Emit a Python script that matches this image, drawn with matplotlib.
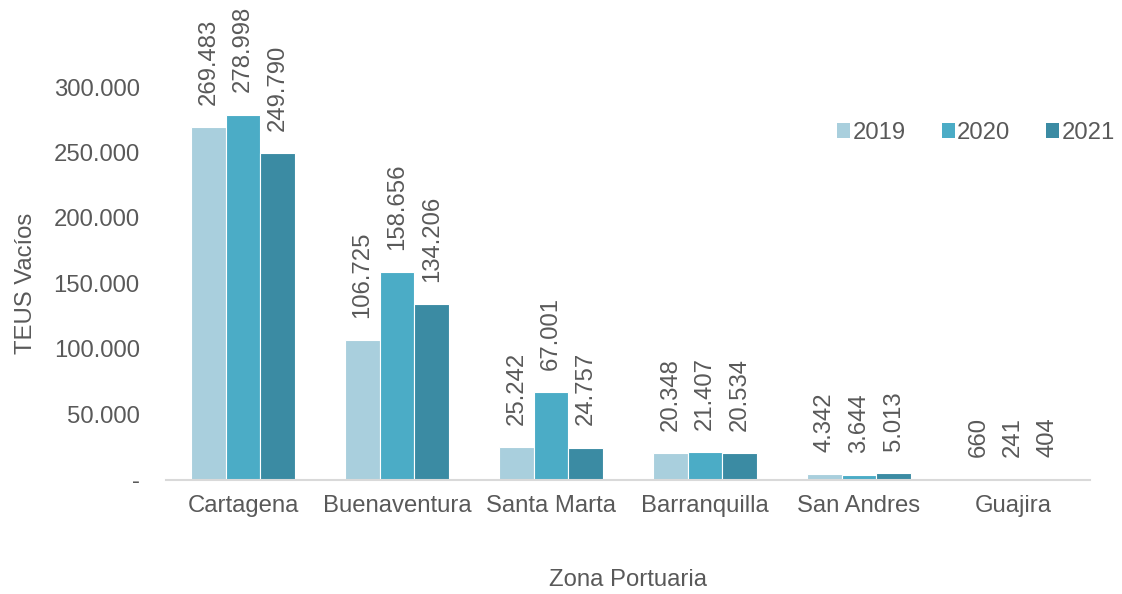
import matplotlib
matplotlib.use("Agg")
import matplotlib.pyplot as plt
import numpy as np
from matplotlib.patches import Patch

plt.rcParams['font.family'] = ['Liberation Sans', 'DejaVu Sans']

categories = ["Cartagena", "Buenaventura", "Santa Marta", "Barranquilla", "San Andres", "Guajira"]
years = ["2019", "2020", "2021"]
v2019 = [269483, 106725, 25242, 20348, 4342, 660]
v2020 = [278998, 158656, 67001, 21407, 3644, 241]
v2021 = [249790, 134206, 24757, 20534, 5013, 404]
series = [v2019, v2020, v2021]
colors = ["#A9CFDD", "#4BACC6", "#3B8BA3"]
yticks = [0, 50000, 100000, 150000, 200000, 250000, 300000]
ytick_labels = ["-", "50.000", "100.000", "150.000", "200.000", "250.000", "300.000"]

txt = "#595959"
fs = 17.2

fig = plt.figure(figsize=(11.22, 5.94), dpi=100)
ax = fig.add_axes([0.148, 0.192, 0.8235, 0.6615])

x = np.arange(len(categories))
w = 0.225
for i, (vals, c) in enumerate(zip(series, colors)):
    pos = x + (i - 1) * w
    ax.bar(pos, vals, width=w, color=c, edgecolor="white", linewidth=0.8, zorder=2)
    for p, v in zip(pos, vals):
        lab = f"{v:,}".replace(",", ".")
        ax.annotate(lab, (p, v), xytext=(0, 16), textcoords="offset points",
                    rotation=90, ha="center", va="bottom",
                    fontsize=fs, color=txt, annotation_clip=False)

ax.set_xlim(-0.5, len(categories) - 0.5)
ax.set_ylim(0, 300000)
ax.set_xticks(x)
ax.set_xticklabels(categories, fontsize=fs, color=txt)
ax.set_yticks(yticks)
ax.set_yticklabels(ytick_labels, fontsize=fs, color=txt)
ax.tick_params(axis="both", length=0)
ax.tick_params(axis="x", pad=11)
ax.tick_params(axis="y", pad=19)
for s in ["top", "right", "left"]:
    ax.spines[s].set_visible(False)
ax.spines["bottom"].set_color("#D9D9D9")
ax.spines["bottom"].set_linewidth(1.5)

ax.set_ylabel("TEUS Vacíos", fontsize=fs, color=txt, labelpad=12)
ax.set_xlabel("Zona Portuaria", fontsize=fs, color=txt, labelpad=37)

handles = [Patch(facecolor=c, edgecolor="none") for c in colors]
fig.legend(handles, years, loc="center", bbox_to_anchor=(0.870, 0.776), ncol=3,
           frameon=False, fontsize=fs, labelcolor=txt, handlelength=0.55,
           handleheight=0.55, handletextpad=0.1, columnspacing=1.5)

fig.savefig("out.png", dpi=100)
